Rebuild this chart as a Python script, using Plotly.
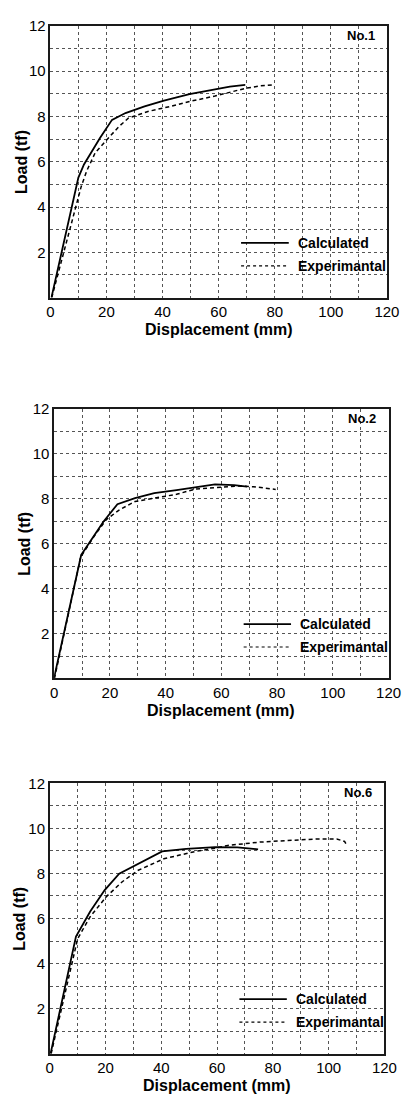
import plotly.graph_objects as go

# ---------------- data ----------------
labels = ["No.1", "No.2", "No.6"]

calc1_x = [0.4, 10.0, 12.0, 17.7, 22.0, 26.8, 33.6, 40.5, 49.6, 58.7, 64.0, 69.5]
calc1_y = [0.0, 5.3, 5.88, 7.05, 7.85, 8.15, 8.44, 8.70, 8.99, 9.21, 9.32, 9.39]
exp1_x = [0.5, 11.0, 13.0, 16.0, 20.0, 24.5, 27.9, 34.8, 42.7, 49.6, 58.7, 69.5, 75.0, 79.2]
exp1_y = [0.0, 4.9, 5.6, 6.4, 6.95, 7.56, 7.93, 8.22, 8.44, 8.66, 8.9, 9.24, 9.35, 9.39]

calc2_x = [0.0, 9.7, 17.6, 22.7, 29.0, 35.9, 43.9, 53.1, 57.7, 64.6, 69.2]
calc2_y = [0.05, 5.5, 6.97, 7.76, 8.03, 8.25, 8.39, 8.54, 8.64, 8.61, 8.54]
exp2_x = [0.1, 9.5, 14.7, 18.7, 23.3, 29.0, 33.6, 43.9, 50.8, 57.7, 65.7, 71.5, 79.5]
exp2_y = [0.0, 5.4, 6.4, 7.07, 7.5, 7.88, 7.98, 8.2, 8.44, 8.49, 8.57, 8.54, 8.42]

calc3_x = [0.3, 9.4, 14.5, 19.7, 24.9, 31.7, 40.3, 48.9, 59.3, 67.3, 74.7]
calc3_y = [0.0, 5.2, 6.31, 7.26, 7.99, 8.43, 8.98, 9.09, 9.17, 9.16, 9.07]
exp3_x = [0.5, 10.0, 14.5, 20.3, 26.0, 31.7, 40.9, 48.9, 52.4, 59.3, 63.8, 75.3, 86.8, 96.0, 102.9, 105.7, 106.5]
exp3_y = [0.0, 5.1, 6.08, 6.97, 7.63, 8.14, 8.65, 8.87, 8.98, 9.12, 9.24, 9.39, 9.46, 9.53, 9.53, 9.42, 9.24]

x_ticks = [0, 20, 40, 60, 80, 100, 120]
y_ticks = [2, 4, 6, 8, 10, 12]

legend_names = ["Calculated", "Experimantal"]
legend_x = [68, 85]
legend_y = [2.42, 1.4]

series = [
    (calc1_x, calc1_y, exp1_x, exp1_y),
    (calc2_x, calc2_y, exp2_x, exp2_y),
    (calc3_x, calc3_y, exp3_x, exp3_y),
]

# ---------------- layout geometry (pixels) ----------------
W, H = 415, 1097
boxes = [  # left, right, top, bottom in px
    (48.3, 399.3, 17.0, 291.0),
    (52.3, 401.0, 403.3, 675.0),
    (47.7, 396.7, 780.7, 1053.3),
]
ytitle_x = [18, 22, 16]

FONT = "Liberation Sans, Arial, Helvetica, sans-serif"
fig = go.Figure()
annotations = []
layout = {}

for i, ((cx, cy, ex, ey), (l, r, t, b)) in enumerate(zip(series, boxes)):
    sfx = "" if i == 0 else str(i + 1)
    xa, ya = "x" + sfx, "y" + sfx
    fig.add_trace(go.Scatter(x=cx, y=cy, mode="lines", xaxis=xa, yaxis=ya,
                             line=dict(color="black", width=1.8), showlegend=False))
    fig.add_trace(go.Scatter(x=ex, y=ey, mode="lines", xaxis=xa, yaxis=ya,
                             line=dict(color="black", width=1.5, dash="4px,3px"), showlegend=False))
    # legend sample lines
    fig.add_trace(go.Scatter(x=legend_x, y=[legend_y[0]] * 2, mode="lines", xaxis=xa, yaxis=ya,
                             line=dict(color="black", width=1.8), showlegend=False))
    fig.add_trace(go.Scatter(x=legend_x, y=[legend_y[1]] * 2, mode="lines", xaxis=xa, yaxis=ya,
                             line=dict(color="black", width=1.2, dash="3px,3px"), showlegend=False))
    for name, yy in zip(legend_names, legend_y):
        annotations.append(dict(x=legend_x[1] + 2.5, y=yy, xref=xa, yref=ya, text="<b>%s</b>" % name,
                                showarrow=False, xanchor="left", yanchor="middle",
                                font=dict(family=FONT, size=14, color="black")))
    annotations.append(dict(x=116.3, y=11.57, xref=xa, yref=ya, text="<b>%s</b>" % labels[i],
                            showarrow=False, xanchor="right", yanchor="middle",
                            font=dict(family=FONT, size=13, color="black")))
    # axis titles
    annotations.append(dict(x=(l + r) / 2 / W, y=1 - (b + 32) / H, xref="paper", yref="paper",
                            text="<b>Displacement (mm)</b>", showarrow=False,
                            xanchor="center", yanchor="middle",
                            font=dict(family=FONT, size=16, color="black")))
    annotations.append(dict(x=ytitle_x[i] / W, y=1 - (t + b) / 2 / H, xref="paper", yref="paper",
                            text="<b>Load (tf)</b>", showarrow=False, textangle=-90,
                            xanchor="center", yanchor="middle",
                            font=dict(family=FONT, size=16, color="black")))

    layout["xaxis" + sfx] = dict(
        domain=[l / W, r / W], anchor=ya, range=[0, 120],
        tickvals=x_ticks, ticks="", showline=True, mirror=True,
        linecolor="#1a1a1a", linewidth=1.5,
        showgrid=True, gridcolor="#555", gridwidth=1, griddash="dot",
        minor=dict(dtick=10, tick0=0, showgrid=True, gridcolor="#555", gridwidth=1, griddash="dot"),
        zeroline=False, tickfont=dict(family=FONT, size=15, color="black"), fixedrange=True)
    layout["yaxis" + sfx] = dict(
        domain=[1 - b / H, 1 - t / H], anchor=xa, range=[0, 12],
        tickvals=y_ticks, ticks="", showline=True, mirror=True,
        linecolor="#1a1a1a", linewidth=1.5,
        showgrid=True, gridcolor="#555", gridwidth=1, griddash="dot",
        minor=dict(dtick=1, tick0=0, showgrid=True, gridcolor="#555", gridwidth=1, griddash="dot"),
        zeroline=False, tickfont=dict(family=FONT, size=15, color="black"), fixedrange=True)

fig.update_layout(
    width=W, height=H, margin=dict(l=0, r=0, t=0, b=0),
    paper_bgcolor="white", plot_bgcolor="white",
    annotations=annotations, showlegend=False, **layout)

fig.write_html("out.html", config={"displayModeBar": False})
